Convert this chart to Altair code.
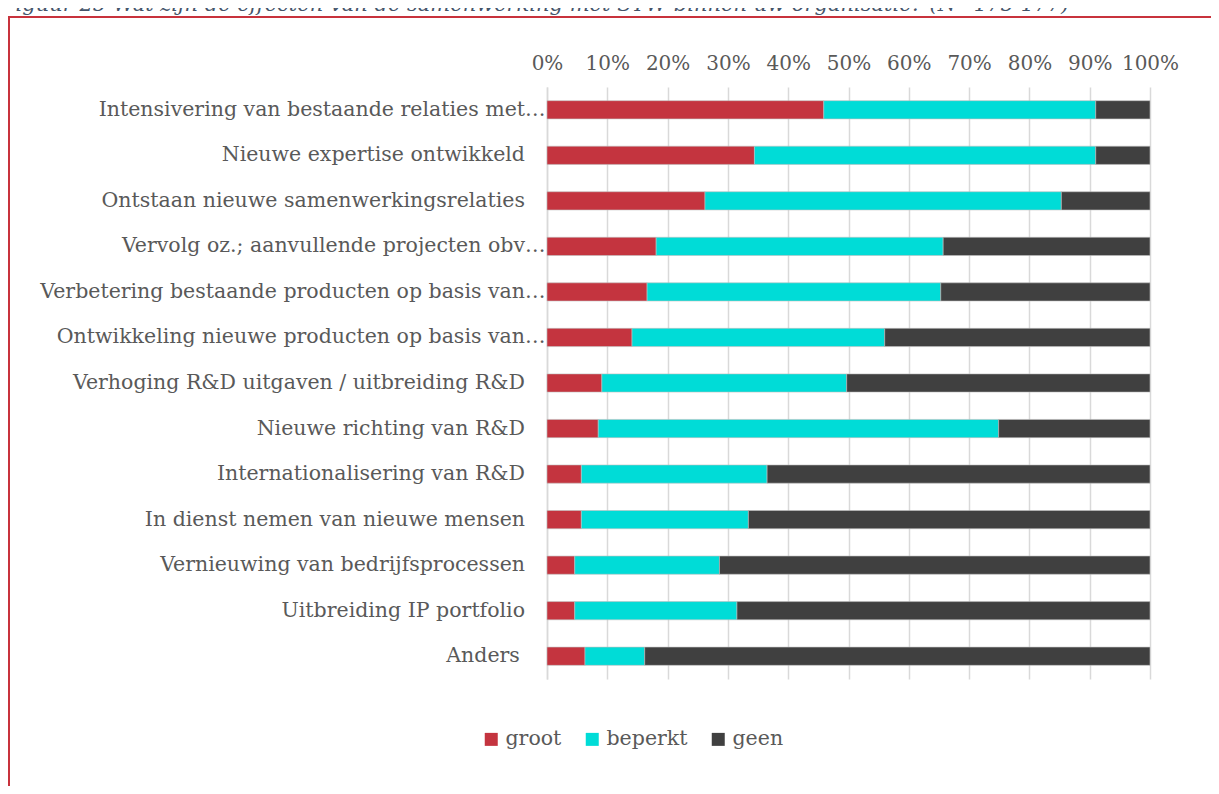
import altair as alt
import pandas as pd

PAD = "\u2003\u200b"
categories = [
    "Intensivering van bestaande relaties met…",
    "Nieuwe expertise ontwikkeld" + PAD,
    "Ontstaan nieuwe samenwerkingsrelaties" + PAD,
    "Vervolg oz.; aanvullende projecten obv…",
    "Verbetering bestaande producten op basis van…",
    "Ontwikkeling nieuwe producten op basis van…",
    "Verhoging R&D uitgaven / uitbreiding R&D" + PAD,
    "Nieuwe richting van R&D" + PAD,
    "Internationalisering van R&D" + PAD,
    "In dienst nemen van nieuwe mensen" + PAD,
    "Vernieuwing van bedrijfsprocessen" + PAD,
    "Uitbreiding IP portfolio" + PAD,
    "Anders\u2003\u2005\u200b",
]
groot = [45.9, 34.4, 26.2, 18.1, 16.6, 14.1, 9.1, 8.5, 5.7, 5.7, 4.6, 4.6, 6.3]
beperkt = [45.1, 56.6, 59.1, 47.6, 48.7, 41.9, 40.6, 66.4, 30.8, 27.7, 24.0, 26.9, 9.9]
geen = [9.0, 9.0, 14.7, 34.3, 34.7, 44.0, 50.3, 25.1, 63.5, 66.6, 71.4, 68.5, 83.8]
series = ["groot", "beperkt", "geen"]
colors = ["#C4343F", "#00DCD7", "#404040"]
tick_values = [0, 0.1, 0.2, 0.3, 0.4, 0.5, 0.6, 0.7, 0.8, 0.9, 1.0]
title_text = "Figuur 25 Wat zijn de effecten van de samenwerking met STW binnen uw organisatie? (N=175-177)"

rows = []
for i, c in enumerate(categories):
    for j, (s, vals) in enumerate(zip(series, [groot, beperkt, geen])):
        rows.append({"categorie": c, "reeks": s, "waarde": vals[i], "volgorde": j})
df = pd.DataFrame(rows)

FONT = "DejaVu Serif"
TEXT = "#595959"

bars = alt.Chart(df).mark_bar(stroke="#BFBFBF", strokeWidth=0.6).encode(
    x=alt.X(
        "waarde:Q",
        stack="normalize",
        scale=alt.Scale(domain=[0, 1], nice=False),
        axis=alt.Axis(
            orient="top", values=tick_values, format=".0%", title=None,
            grid=True, gridColor="#D9D9D9", gridWidth=1.5,
            domain=False, ticks=False, labelPadding=14,
            labelFlush=False, labelOverlap=False,
            labelFont=FONT, labelFontSize=20, labelColor=TEXT,
        ),
    ),
    y=alt.Y(
        "categorie:N",
        sort=categories,
        scale=alt.Scale(paddingInner=0.6, paddingOuter=0.3),
        axis=alt.Axis(
            title=None, ticks=False, domain=True, domainColor="#D9D9D9",
            domainWidth=1.5, grid=False, labelPadding=2, labelLimit=800,
            labelFont=FONT, labelFontSize=20.5, labelColor=TEXT,
        ),
    ),
    color=alt.Color(
        "reeks:N",
        scale=alt.Scale(domain=series, range=colors),
        legend=alt.Legend(
            orient="none", legendX=-66, legendY=642, direction="horizontal",
            title=None, symbolType="square", symbolSize=169,
            symbolStrokeWidth=0, labelFont=FONT, labelFontSize=20.5,
            labelColor=TEXT, columnPadding=20, labelOffset=4,
        ),
    ),
    order=alt.Order("volgorde:Q", sort="ascending"),
)

one = alt.Data(values=[{"k": 1}])

frame_top = alt.Chart(one).mark_rule(color="#C8323C", strokeWidth=2).encode(
    x=alt.value(-545), x2=alt.value(664), y=alt.value(-70)
)
frame_left = alt.Chart(one).mark_rule(color="#C8323C", strokeWidth=2).encode(
    x=alt.value(-538), y=alt.value(-71), y2=alt.value(720)
)
title = alt.Chart(one).mark_text(
    align="left", baseline="alphabetic", font=FONT, fontStyle="italic",
    fontSize=21, color="#44546A",
).encode(x=alt.value(-546), y=alt.value(-76), text=alt.value(title_text))

chart = alt.layer(bars, frame_top, frame_left, title).properties(
    width=603, height=592,
    autosize=alt.AutoSizeParams(type="none"),
    padding={"left": 539, "top": 79, "right": 61, "bottom": 107},
).configure_view(stroke=None)

chart.save("out.html", embed_options={"renderer": "svg", "actions": False})
